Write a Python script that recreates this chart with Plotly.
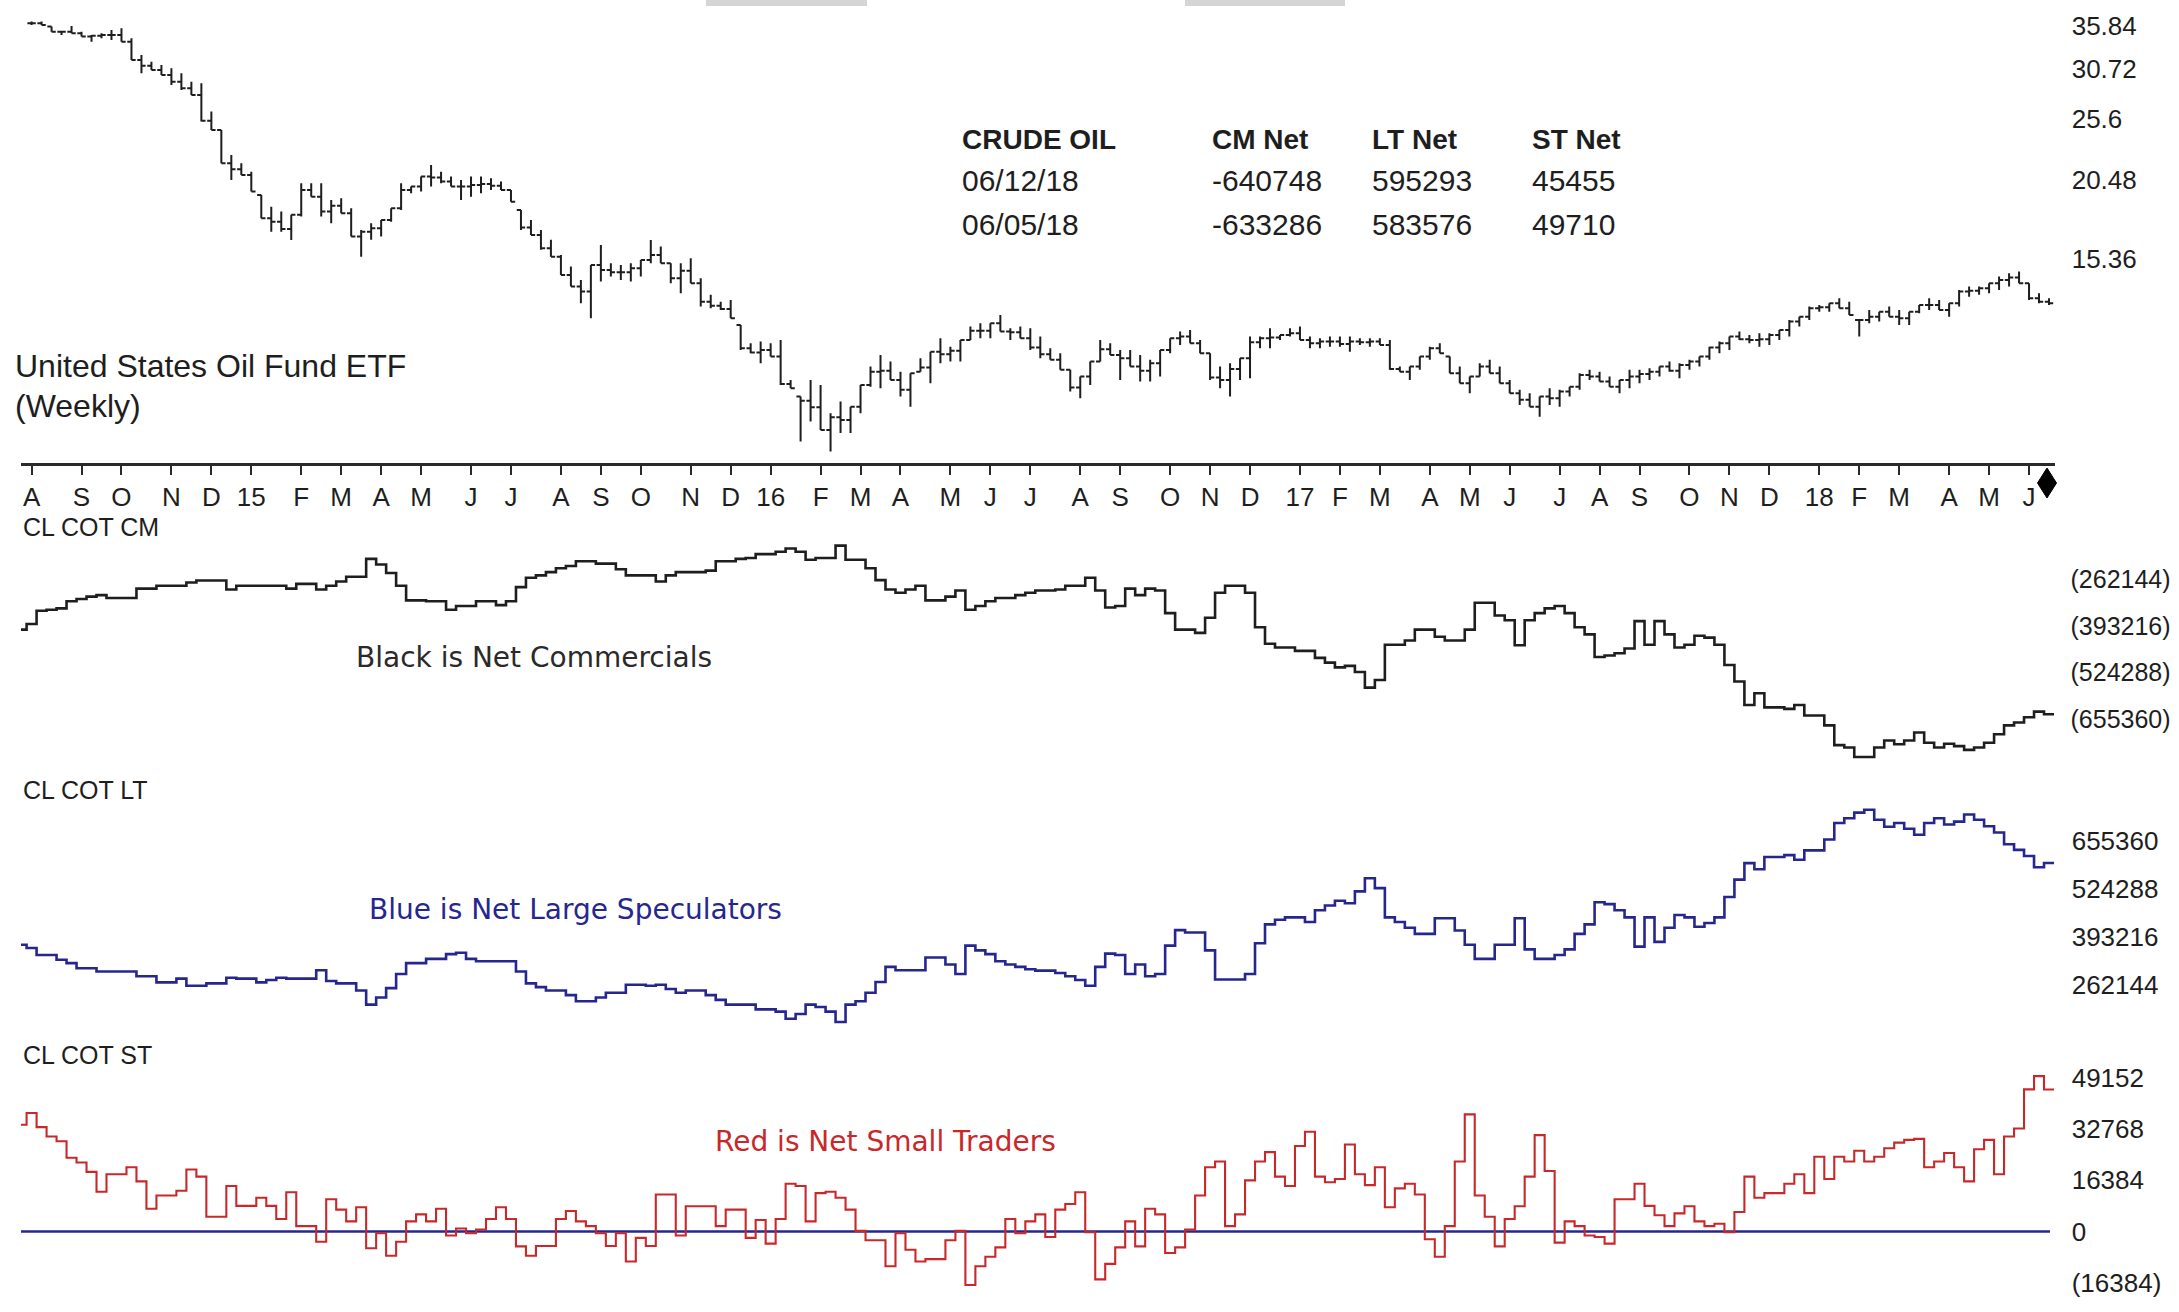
import pandas as pd
import plotly.graph_objects as go

# ---------------- data ----------------
# weekly price bars (week ending Friday), first bar 2014-08-01
bar_weeks = pd.date_range("2014-08-01", periods=203, freq="7D")

uso_open = [
    36.25, 36.25, 35.81, 35.16, 35.16, 34.95, 34.53, 34.63, 34.74, 34.74,
    33.90, 31.71, 31.04, 30.57, 30.02, 29.29, 28.59, 27.90, 25.39, 24.56,
    21.74, 21.28, 20.84, 19.37, 17.79, 17.57, 17.10, 18.01, 19.73, 19.25,
    18.23, 18.62, 18.12, 16.64, 16.94, 17.15, 17.68, 18.45, 19.73, 19.97,
    20.71, 20.65, 20.34, 19.97, 19.97, 20.09, 20.15, 20.03, 19.73, 18.34,
    17.20, 16.74, 15.94, 15.46, 14.46, 13.86, 13.61, 15.00, 14.73, 14.60,
    14.60, 14.82, 15.28, 15.56, 15.09, 14.29, 14.69, 14.03, 13.12, 12.92,
    12.77, 12.05, 11.07, 10.90, 11.00, 10.74, 9.71, 9.28, 9.14, 8.92,
    8.21, 8.60, 8.52, 8.94, 9.68, 10.16, 10.19, 9.86, 9.51, 10.16,
    10.32, 10.93, 10.83, 10.97, 11.41, 11.80, 11.80, 12.12, 11.76, 11.73,
    11.48, 11.10, 10.83, 10.61, 10.23, 9.59, 9.98, 10.54, 11.03, 10.80,
    10.67, 10.35, 10.19, 10.48, 11.00, 11.48, 11.55, 11.27, 10.87, 9.95,
    9.86, 10.26, 10.67, 11.31, 11.48, 11.51, 11.62, 11.69, 11.41, 11.27,
    11.34, 11.34, 11.24, 11.34, 11.31, 11.34, 11.20, 10.26, 10.16, 10.35,
    10.74, 11.07, 10.74, 10.10, 9.74, 9.98, 10.35, 10.10, 9.74, 9.39,
    9.17, 8.94, 9.28, 9.22, 9.45, 9.62, 10.04, 9.98, 9.80, 9.62,
    9.86, 9.98, 10.07, 10.16, 10.35, 10.19, 10.41, 10.54, 10.74, 11.10,
    11.27, 11.55, 11.44, 11.41, 11.44, 11.62, 11.83, 12.20, 12.42, 12.81,
    12.85, 13.04, 12.81, 12.27, 12.27, 12.42, 12.65, 12.42, 12.35, 12.65,
    12.96, 12.96, 12.73, 13.04, 13.61, 13.65, 13.78, 14.03, 14.20, 14.33,
    14.03, 13.28, 13.12]

uso_high = [
    36.47, 36.47, 35.81, 35.16, 35.90, 35.16, 34.74, 34.95, 35.38, 35.59,
    34.32, 32.29, 31.51, 31.13, 30.76, 30.20, 29.29, 29.12, 26.26, 24.56,
    22.42, 21.74, 21.09, 19.37, 18.56, 18.23, 18.01, 20.21, 20.21, 20.21,
    19.02, 19.13, 18.45, 17.05, 17.47, 17.68, 18.45, 20.21, 19.97, 20.71,
    21.61, 21.09, 20.71, 20.46, 20.71, 20.71, 20.58, 20.34, 19.73, 18.34,
    17.68, 17.05, 16.44, 15.56, 14.91, 14.20, 15.00, 16.14, 15.09, 15.00,
    15.09, 15.28, 16.43, 16.04, 15.09, 15.09, 15.37, 14.29, 13.45, 13.12,
    13.20, 12.05, 11.27, 11.34, 11.27, 11.41, 9.86, 9.28, 9.86, 9.68,
    8.73, 9.11, 8.94, 9.68, 10.35, 10.80, 10.54, 10.16, 10.10, 10.67,
    10.93, 11.48, 11.13, 11.41, 11.98, 12.12, 12.12, 12.50, 11.91, 11.98,
    11.91, 11.55, 11.07, 10.87, 10.23, 9.98, 10.54, 11.41, 11.27, 11.00,
    11.00, 10.80, 10.61, 11.00, 11.48, 11.76, 11.83, 11.41, 10.87, 10.35,
    10.48, 10.67, 11.55, 11.55, 11.91, 11.62, 11.91, 11.98, 11.55, 11.48,
    11.55, 11.55, 11.55, 11.48, 11.48, 11.48, 11.41, 10.35, 10.35, 10.74,
    11.13, 11.27, 10.74, 10.35, 9.98, 10.48, 10.61, 10.35, 9.86, 9.51,
    9.39, 9.28, 9.56, 9.51, 9.62, 10.10, 10.23, 10.16, 9.98, 9.86,
    10.23, 10.23, 10.29, 10.35, 10.54, 10.48, 10.61, 10.74, 11.13, 11.34,
    11.55, 11.76, 11.62, 11.69, 11.69, 11.83, 12.27, 12.42, 12.89, 12.96,
    13.04, 13.28, 13.12, 12.27, 12.73, 12.65, 12.89, 12.73, 12.65, 12.96,
    13.28, 13.20, 13.04, 13.69, 13.86, 13.86, 14.03, 14.38, 14.55, 14.64,
    14.03, 13.53, 13.28]

uso_low = [
    36.03, 36.03, 35.16, 34.74, 34.95, 34.53, 33.90, 34.32, 34.11, 33.90,
    31.71, 30.20, 30.57, 30.02, 28.94, 28.42, 27.90, 25.32, 24.56, 21.74,
    20.46, 20.84, 19.61, 17.79, 16.94, 16.94, 16.43, 17.90, 19.25, 17.90,
    17.47, 18.12, 16.64, 15.46, 16.44, 16.64, 17.57, 18.34, 19.49, 19.61,
    19.97, 20.21, 19.97, 19.02, 19.25, 19.49, 19.73, 19.73, 18.90, 17.05,
    16.74, 15.85, 15.46, 14.46, 13.86, 13.04, 12.35, 14.12, 14.38, 14.20,
    14.12, 14.38, 15.09, 15.09, 14.03, 13.53, 14.03, 12.89, 12.81, 12.73,
    12.35, 11.00, 10.87, 10.48, 10.74, 9.68, 9.56, 7.87, 8.47, 8.21,
    7.59, 8.12, 8.12, 8.73, 9.62, 9.56, 9.86, 9.28, 8.94, 10.16,
    9.74, 10.48, 10.54, 10.54, 11.41, 11.48, 11.48, 11.76, 11.41, 11.48,
    11.00, 10.67, 10.61, 10.23, 9.45, 9.22, 9.68, 10.54, 10.80, 9.86,
    10.35, 9.80, 9.80, 9.98, 10.87, 11.20, 11.27, 10.87, 9.86, 9.56,
    9.28, 9.86, 9.92, 11.07, 11.07, 11.41, 11.55, 11.41, 11.07, 11.07,
    11.13, 11.13, 10.93, 11.20, 11.13, 11.20, 10.23, 10.16, 9.86, 10.23,
    10.61, 10.87, 10.10, 9.74, 9.39, 9.98, 10.10, 9.74, 9.39, 9.00,
    8.94, 8.62, 9.00, 8.94, 9.28, 9.51, 9.86, 9.80, 9.62, 9.39,
    9.56, 9.74, 9.86, 9.98, 10.16, 9.92, 10.23, 10.35, 10.61, 10.87,
    11.00, 11.41, 11.27, 11.13, 11.20, 11.41, 11.55, 11.98, 12.27, 12.65,
    12.65, 12.81, 12.50, 11.55, 12.12, 12.20, 12.42, 12.05, 12.05, 12.58,
    12.73, 12.73, 12.42, 12.89, 13.36, 13.45, 13.53, 13.69, 13.86, 14.03,
    13.20, 13.04, 12.96]

uso_close = [
    36.25, 36.03, 35.16, 35.16, 34.95, 34.53, 34.63, 34.74, 34.74, 33.90,
    31.71, 31.04, 30.57, 30.02, 29.29, 28.59, 27.90, 25.39, 24.56, 21.74,
    21.28, 20.84, 19.61, 17.79, 17.57, 17.10, 18.01, 19.73, 19.25, 18.23,
    18.62, 18.12, 16.64, 16.94, 17.15, 17.68, 18.45, 19.73, 19.97, 20.71,
    20.65, 20.34, 19.97, 19.97, 20.09, 20.15, 20.03, 19.73, 18.90, 17.20,
    16.74, 15.94, 15.46, 14.46, 13.86, 13.61, 15.00, 14.73, 14.60, 14.60,
    14.82, 15.28, 15.56, 15.09, 14.29, 14.69, 14.03, 13.12, 12.92, 12.77,
    12.35, 11.07, 10.90, 11.00, 10.74, 9.71, 9.56, 9.14, 8.92, 8.21,
    8.60, 8.52, 8.94, 9.68, 10.16, 10.19, 9.86, 9.51, 10.10, 10.32,
    10.93, 10.83, 10.97, 11.41, 11.80, 11.80, 12.12, 11.76, 11.73, 11.48,
    11.10, 10.83, 10.61, 10.23, 9.59, 9.98, 10.54, 11.03, 10.80, 10.67,
    10.35, 10.19, 10.48, 11.00, 11.48, 11.55, 11.27, 10.87, 9.95, 9.86,
    10.26, 10.67, 11.31, 11.48, 11.51, 11.62, 11.69, 11.41, 11.27, 11.34,
    11.34, 11.24, 11.34, 11.31, 11.34, 11.20, 10.26, 10.16, 10.35, 10.74,
    11.07, 10.87, 10.10, 9.74, 9.98, 10.35, 10.10, 9.74, 9.39, 9.17,
    8.94, 9.28, 9.22, 9.45, 9.62, 10.04, 9.98, 9.80, 9.62, 9.86,
    9.98, 10.07, 10.16, 10.35, 10.19, 10.41, 10.54, 10.74, 11.10, 11.27,
    11.55, 11.44, 11.41, 11.44, 11.62, 11.83, 12.20, 12.42, 12.81, 12.85,
    13.04, 12.81, 12.50, 12.27, 12.42, 12.65, 12.42, 12.35, 12.65, 12.96,
    12.96, 12.73, 13.04, 13.61, 13.65, 13.78, 14.03, 14.20, 14.33, 14.03,
    13.28, 13.12, 13.04]

# weekly COT net positions; first value is the week before the first price bar
cm_net = [
    -403800, -388000, -351000, -348400, -344400, -324600, -318000, -311400, -307400, -315400,
    -315400, -315400, -289000, -289000, -281000, -281000, -281000, -271800, -266500, -266500,
    -266500, -291600, -281000, -281000, -281000, -281000, -281000, -289000, -275800, -275800,
    -291600, -281000, -269200, -256000, -256000, -205800, -221600, -245400, -281000, -322000,
    -322000, -324600, -324600, -348400, -337800, -337800, -324600, -324600, -335200, -324600,
    -285000, -258600, -252000, -242800, -232200, -225600, -212400, -212400, -219000, -219000,
    -234800, -252000, -252000, -252000, -269200, -252000, -242800, -242800, -242800, -238800,
    -212400, -212400, -205800, -203200, -192600, -192600, -186000, -176800, -186000, -208400,
    -203200, -203200, -168800, -208400, -208400, -232200, -265200, -291600, -300800, -291600,
    -281000, -322000, -322000, -311400, -294200, -348400, -337800, -324600, -315400, -315400,
    -307400, -300800, -294200, -294200, -291600, -281000, -281000, -258600, -294200, -341800,
    -337800, -289000, -307400, -289000, -294200, -357600, -403800, -403800, -413000, -370800,
    -300800, -281000, -281000, -300800, -397200, -443400, -454000, -454000, -463200, -463200,
    -483000, -496200, -509400, -505400, -522600, -566200, -545000, -446000, -446000, -434200,
    -403800, -403800, -423600, -434200, -434200, -403800, -328600, -328600, -364200, -377400,
    -447400, -377400, -357600, -344400, -337800, -357600, -397200, -417000, -480400, -476400,
    -469800, -456600, -380000, -446000, -380000, -417000, -454000, -446000, -421000, -426200,
    -446000, -502800, -549000, -615000, -582000, -621600, -621600, -625600, -615000, -644000,
    -644000, -671800, -727200, -733800, -760200, -760200, -733800, -714000, -724600, -714000,
    -691600, -720600, -733800, -723200, -729800, -740400, -733800, -720600, -696800, -671800,
    -663800, -649300, -633286, -640748]

lt_net = [
    372200, 363200, 343900, 343900, 331000, 322000, 307800, 307800, 298800, 298800,
    298800, 298800, 285900, 285900, 269200, 269200, 279500, 260100, 260100, 266600,
    266600, 282000, 279500, 279500, 269200, 275600, 282000, 279500, 279500, 279500,
    302600, 273000, 266600, 266600, 247300, 208600, 227900, 253700, 292300, 322000,
    322000, 333600, 333600, 346400, 350300, 333600, 327100, 327100, 327100, 327100,
    298800, 266600, 256300, 247300, 247300, 234400, 217600, 217600, 227900, 240800,
    240800, 262700, 262700, 260100, 262700, 251100, 240800, 247300, 247300, 234400,
    221500, 208600, 208600, 208600, 195700, 195700, 189300, 170000, 182900, 208600,
    202200, 189300, 160900, 208600, 217600, 240800, 270400, 311700, 302600, 302600,
    302600, 337400, 337400, 318100, 292300, 369600, 356700, 346400, 327100, 318100,
    311700, 305200, 301400, 301400, 294900, 285900, 275600, 260100, 311700, 347700,
    343900, 292300, 318100, 285900, 292300, 369600, 412100, 405700, 405700, 356700,
    277000, 277000, 277000, 292300, 376100, 427600, 440500, 446900, 446900, 434000,
    466200, 479100, 492000, 485500, 517700, 553800, 526800, 446900, 434000, 418600,
    401800, 401800, 444300, 444300, 410800, 372200, 333600, 333600, 372200, 372200,
    444300, 359300, 333600, 333600, 343900, 359300, 401800, 427600, 488100, 483000,
    466200, 446900, 367000, 446900, 379900, 418600, 453300, 446900, 421100, 431400,
    446900, 502300, 549900, 595000, 578300, 611800, 611800, 616900, 604000, 629800,
    629800, 659400, 704500, 717400, 732800, 740600, 713500, 694200, 704500, 689000,
    672300, 704500, 717400, 700600, 708400, 727700, 713500, 695500, 678700, 646500,
    631100, 614300, 583576, 595293]

st_net = [
    34160, 37940, 33410, 30390, 28880, 23600, 22090, 19070, 12740, 18320,
    18320, 20580, 16050, 7300, 11530, 11530, 13040, 19830, 17560, 4740,
    4740, 14550, 8210, 8210, 10780, 8210, 3980, 12580, 1720, 1720,
    -3260, 10320, 7000, 3230, 7760, -5370, -540, -7780, -3260, 3230,
    5490, 3230, 7300, -1300, 960, -540, 660, 3980, 7760, 3980,
    -4770, -7780, -4620, -4620, 3980, 6550, 3230, 1720, -540, -4620,
    -540, -9600, -2050, -4620, 11830, 11830, -1300, 8060, 8060, 8060,
    1720, 7000, 7000, -2050, 3680, -3870, 3980, 15300, 14550, 3230,
    12280, 12740, 10780, 7000, 210, -2810, -2810, -11110, -540, -5820,
    -9600, -8840, -8840, -2810, 210, -17140, -11110, -8090, -5070, 3980,
    -540, 3230, 5490, -1750, 7000, 8810, 12580, -240, -15330, -10350,
    -5070, 3230, -4770, 7300, 5490, -6880, -5070, 660, 11530, 20580,
    22390, 1720, 5490, 16350, 22390, 25400, 17560, 14550, 27370, 31900,
    17560, 15750, 16810, 27820, 18320, 14850, 20580, 7760, 13790, 15300,
    11830, -2500, -8090, 1720, 22390, 37480, 11530, 4740, -4770, 3980,
    8060, 17560, 30840, 19370, -3560, 3230, 1720, -1300, -1750, -3870,
    10320, 10320, 15300, 8210, 5190, 1720, 5790, 8060, 3230, 1720,
    2470, -240, 6250, 17560, 10780, 12280, 12280, 15300, 18320, 12280,
    23900, 16810, 23900, 22390, 25860, 22390, 23900, 26620, 28430, 29330,
    29640, 20580, 22390, 25110, 20580, 16050, 26310, 29330, 18320, 30390,
    32950, 45480, 49710, 45455]

price_ticks = [15.36, 20.48, 25.6, 30.72, 35.84]
cm_ticks = [-262144, -393216, -524288, -655360]
lt_ticks = [262144, 393216, 524288, 655360]
st_ticks = [-16384, 0, 16384, 32768, 49152]

header_cols = ["CRUDE OIL", "CM Net", "LT Net", "ST Net"]
header_rows = [["06/12/18", "-640748", "595293", "45455"],
               ["06/05/18", "-633286", "583576", "49710"]]

# ---------------- helpers ----------------
ARIAL = "Liberation Sans, Arial, Helvetica, sans-serif"
VERD = "DejaVu Sans, Verdana, sans-serif"
INK = "#1e1e1e"
BLUE = "#26268f"
RED = "#c8282a"
W, H = 2179, 1312


def neg_fmt(v):
    return f"({abs(v)})" if v < 0 else f"{v}"


def px(x):
    return x / W


def py(y):
    return 1 - y / H


idx = list(range(len(uso_close)))
tickvals, ticktext = [], []
for i, d in enumerate(bar_weeks):
    if i == 0 or d.month != bar_weeks[i - 1].month:
        tickvals.append(i)
        ticktext.append(f"{d.year % 100:02d}" if d.month == 1 else "JFMAMJJASOND"[d.month - 1])

# step lines: each weekly value held across its own bar slot
n_cot = len(cm_net)
cot_x = [k - 1.5 for k in range(n_cot)] + [n_cot - 1.5]


def step_y(vals):
    return list(vals) + [vals[-1]]


fig = go.Figure()
fig.add_trace(go.Ohlc(
    x=idx, open=uso_open, high=uso_high, low=uso_low, close=uso_close,
    increasing=dict(line=dict(color=INK, width=2)),
    decreasing=dict(line=dict(color=INK, width=2)),
    tickwidth=0.42, xaxis="x", yaxis="y", hoverinfo="skip"))
fig.add_trace(go.Scatter(x=cot_x, y=step_y(cm_net), mode="lines", line_shape="hv",
                         line=dict(color=INK, width=2.6), xaxis="x2", yaxis="y2", hoverinfo="skip"))
fig.add_trace(go.Scatter(x=cot_x, y=step_y(lt_net), mode="lines", line_shape="hv",
                         line=dict(color=BLUE, width=2.6), xaxis="x3", yaxis="y3", hoverinfo="skip"))
fig.add_trace(go.Scatter(x=cot_x, y=step_y(st_net), mode="lines", line_shape="hv",
                         line=dict(color=RED, width=2.1), xaxis="x4", yaxis="y4", hoverinfo="skip"))

XDOM = [21 / W, 2054.5 / W]
XR = [-1.06, 202.55]
tickfont = dict(family=ARIAL, size=26, color=INK)
yax_common = dict(side="right", showgrid=False, zeroline=False, showline=False,
                  ticks="outside", ticklen=11, tickcolor="rgba(0,0,0,0)",
                  tickfont=tickfont, fixedrange=True)
yax_cm = dict(yax_common, ticklen=10, tickfont=dict(family=ARIAL, size=25, color=INK))

fig.update_layout(
    width=W, height=H, margin=dict(l=0, r=0, t=0, b=0),
    paper_bgcolor="white", plot_bgcolor="white", showlegend=False,
    xaxis=dict(domain=XDOM, range=XR, anchor="y", showgrid=False, zeroline=False,
               showline=True, linecolor="#2a2a2a", linewidth=3,
               ticks="outside", ticklen=9, tickwidth=2, tickcolor="#2a2a2a",
               tickvals=tickvals, ticktext=ticktext, tickangle=0,
               tickfont=dict(family=ARIAL, size=26, color=INK),
               rangeslider=dict(visible=False), fixedrange=True),
    yaxis=dict(domain=[py(463), 1], type="log", range=[0.86208, 1.59622], anchor="x",
               tickvals=price_ticks, ticktext=[str(v) for v in price_ticks], **yax_common),
    xaxis2=dict(domain=XDOM, range=XR, anchor="y2", visible=False, matches="x"),
    yaxis2=dict(domain=[py(770), py(535)], range=[-796753, -138988], anchor="x2",
                tickvals=cm_ticks, ticktext=[neg_fmt(v) for v in cm_ticks], **yax_cm),
    xaxis3=dict(domain=XDOM, range=XR, anchor="y3", visible=False, matches="x"),
    yaxis3=dict(domain=[py(1035), py(800)], range=[125604, 767319], anchor="x3",
                tickvals=lt_ticks, ticktext=[neg_fmt(v) for v in lt_ticks], **yax_common),
    xaxis4=dict(domain=XDOM, range=XR, anchor="y4", visible=False, matches="x"),
    yaxis4=dict(domain=[py(1300), py(1045)], range=[-21920, 59680], anchor="x4",
                tickvals=st_ticks, ticktext=[neg_fmt(v) for v in st_ticks], **yax_common),
)

shapes = [
    dict(type="line", xref="x4", yref="y4", x0=XR[0], x1=202.1, y0=0, y1=0,
         line=dict(color=BLUE, width=2.4), layer="below"),
    dict(type="rect", xref="paper", yref="paper", x0=px(706), x1=px(867), y0=py(6), y1=1,
         fillcolor="#d5d5d5", line=dict(width=0)),
    dict(type="rect", xref="paper", yref="paper", x0=px(1185), x1=px(1345), y0=py(6), y1=1,
         fillcolor="#d5d5d5", line=dict(width=0)),
]
cx, cy, hw, hh = px(2047), py(483), 9.5 / W, 15 / H
shapes.append(dict(type="path", xref="paper", yref="paper",
                   path=f"M {cx},{cy + hh} L {cx + hw},{cy} L {cx},{cy - hh} L {cx - hw},{cy} Z",
                   fillcolor="black", line=dict(color="black", width=1)))
fig.update_layout(shapes=shapes)

ann = []


def text(x, y, s, size, family=ARIAL, color=INK, bold=False):
    ann.append(dict(x=px(x), y=py(y), xref="paper", yref="paper", text=f"<b>{s}</b>" if bold else s,
                    showarrow=False, xanchor="left", yanchor="middle",
                    font=dict(family=family, size=size, color=color)))


text(13, 366, "United States Oil Fund ETF", 32)
text(13, 406, "(Weekly)", 32)
col_x = [960, 1210, 1370, 1530]
for cxx, s in zip(col_x, header_cols):
    text(cxx, 139, s, 28, bold=True)
for ry, row in zip([181, 224], header_rows):
    for cxx, s in zip(col_x, row):
        text(cxx, ry, s, 30)
text(21, 527, "CL COT CM", 25)
text(21, 790, "CL COT LT", 25)
text(21, 1055, "CL COT ST", 25)
text(354, 657, "Black is Net Commercials", 28, family=VERD, color="#2a2a2a")
text(367, 909, "Blue is Net Large Speculators", 28, family=VERD, color=BLUE)
text(713, 1141, "Red is Net Small Traders", 28, family=VERD, color=RED)
fig.update_layout(annotations=ann)

# remove the default 8px page margin so the figure sits at the window's top-left corner
fig.write_html("out.html", config={"displayModeBar": False},
               post_script="document.body.style.margin='0';document.body.style.overflow='hidden';")
